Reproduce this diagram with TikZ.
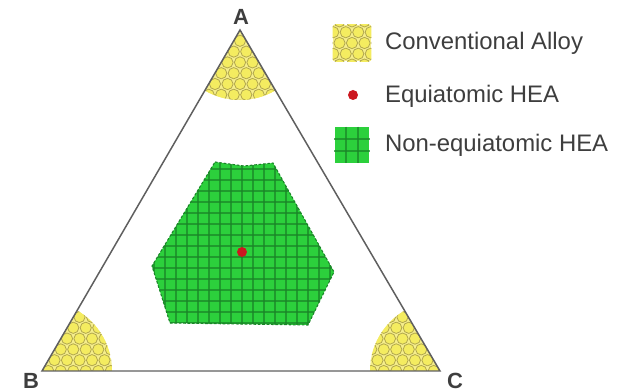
\documentclass[tikz,border=0pt]{standalone}
\usepackage{fontspec}
\setmainfont{Liberation Sans}
\usepackage{xcolor}
\definecolor{alloyyellow}{RGB}{244, 236, 96}
\definecolor{alloypale}{RGB}{245, 238, 140}
\definecolor{alloyedge}{RGB}{176, 166, 78}
\definecolor{heagreen}{RGB}{44, 208, 60}
\definecolor{heagrid}{RGB}{26, 132, 40}
\definecolor{heared}{RGB}{204, 24, 32}
\definecolor{darkslate}{RGB}{62, 62, 62}
\definecolor{edgegray}{RGB}{95, 95, 95}
\usepackage{tikz}
\usetikzlibrary{positioning, calc}
\tikzset{
  alloycell/.style={fill=alloyyellow, draw=alloyedge, line width=0.45pt},
  gridline/.style={draw=heagrid, line width=1.1pt, opacity=0.7},
  swatch/.style={inner sep=0pt, minimum width=0.76cm, minimum height=0.71cm},
  legendtext/.style={anchor=west, inner sep=1pt, text=darkslate},
  cornerlabel/.style={font=\bfseries\fontsize{12.5}{14}\selectfont, text=darkslate, inner sep=0pt}
}

\begin{document}
\begin{tikzpicture}[x=0.02cm, y=-0.02cm, font=\fontsize{13.6}{16}\selectfont]
    \useasboundingbox (0,0) rectangle (626,391);
    \coordinate (cA) at (240,30);
    \coordinate (cB) at (42,371);
    \coordinate (cC) at (440,371);
    \begin{scope}
        \clip (cA) -- (cB) -- (cC) -- cycle;
        \foreach \c in {cA,cB,cC} {
            \begin{scope}[shift={(\c)}]
                \clip (0,0) circle (70);
                \fill[alloypale] (0,0) circle (70);
                \foreach \i in {-6,...,6}
                    \foreach \j in {-7,...,7}
                        \filldraw[alloycell] ({\i*12.5+mod(\j+7,2)*6.25},{\j*10.8}) circle (5.6);
            \end{scope}
        }
    \end{scope}
    \coordinate (g1) at (215,162);
    \coordinate (g2) at (244,166);
    \coordinate (g3) at (273,163);
    \coordinate (g4) at (334,272);
    \coordinate (g5) at (308,325);
    \coordinate (g6) at (170,323);
    \coordinate (g7) at (152,266);
    \begin{scope}
        \clip (g1) -- (g2) -- (g3) -- (g4) -- (g5) -- (g6) -- (g7) -- cycle;
        \fill[heagreen] (140,150) rectangle (340,330);
        \foreach \k in {0,...,18}
            \draw[gridline] ({143+\k*11},150) -- ++(0,180);
        \foreach \k in {0,...,17}
            \draw[gridline] (140,{158+\k*11}) -- ++(200,0);
    \end{scope}
    \draw[heagrid, line width=0.6pt, dash pattern=on 1.5pt off 1pt] (g1) -- (g2) -- (g3) -- (g4) -- (g5) -- (g6) -- (g7) -- cycle;
    \draw[edgegray, line width=0.85pt] (cA) -- (cB) -- (cC) -- cycle;
    \node[circle, fill=heared, inner sep=0pt, minimum size=0.2cm] (dotCenter) at (242,252) {};
    \node[cornerlabel] (lA) at (241,17) {A};
    \node[cornerlabel] (lB) at (31,381) {B};
    \node[cornerlabel] (lC) at (455,381) {C};

    \node[swatch] (swAlloy) at (352,43) {};
    \begin{scope}
        \clip (swAlloy.south west) rectangle (swAlloy.north east);
        \fill[alloypale] (swAlloy.south west) rectangle (swAlloy.north east);
        \foreach \i in {-2,...,2}
            \foreach \j in {-2,...,2}
                \filldraw[alloycell] ($(swAlloy.center)+({\i*12.5+mod(\j+2,2)*6.25},{\j*10.8})$) circle (5.6);
    \end{scope}
    \node[circle, fill=heared, inner sep=0pt, minimum size=0.2cm] (dotEqui) at (353,95) {};
    \node[swatch, fill=heagreen, minimum width=0.7cm, minimum height=0.72cm] (swNon) at (352,145) {};
    \foreach \k in {1,2}{
        \draw[gridline] ($(swNon.north west)!{\k/3}!(swNon.north east)$) -- ($(swNon.south west)!{\k/3}!(swNon.south east)$);
        \draw[gridline] ($(swNon.north west)!{\k/3}!(swNon.south west)$) -- ($(swNon.north east)!{\k/3}!(swNon.south east)$);
    }
    \node[legendtext] (tAlloy) at (383,43) {Conventional Alloy};
    \node[legendtext] (tEqui) at (383,96) {Equiatomic HEA};
    \node[legendtext] (tNon) at (383,145) {Non-equiatomic HEA};
\end{tikzpicture}
\end{document}
